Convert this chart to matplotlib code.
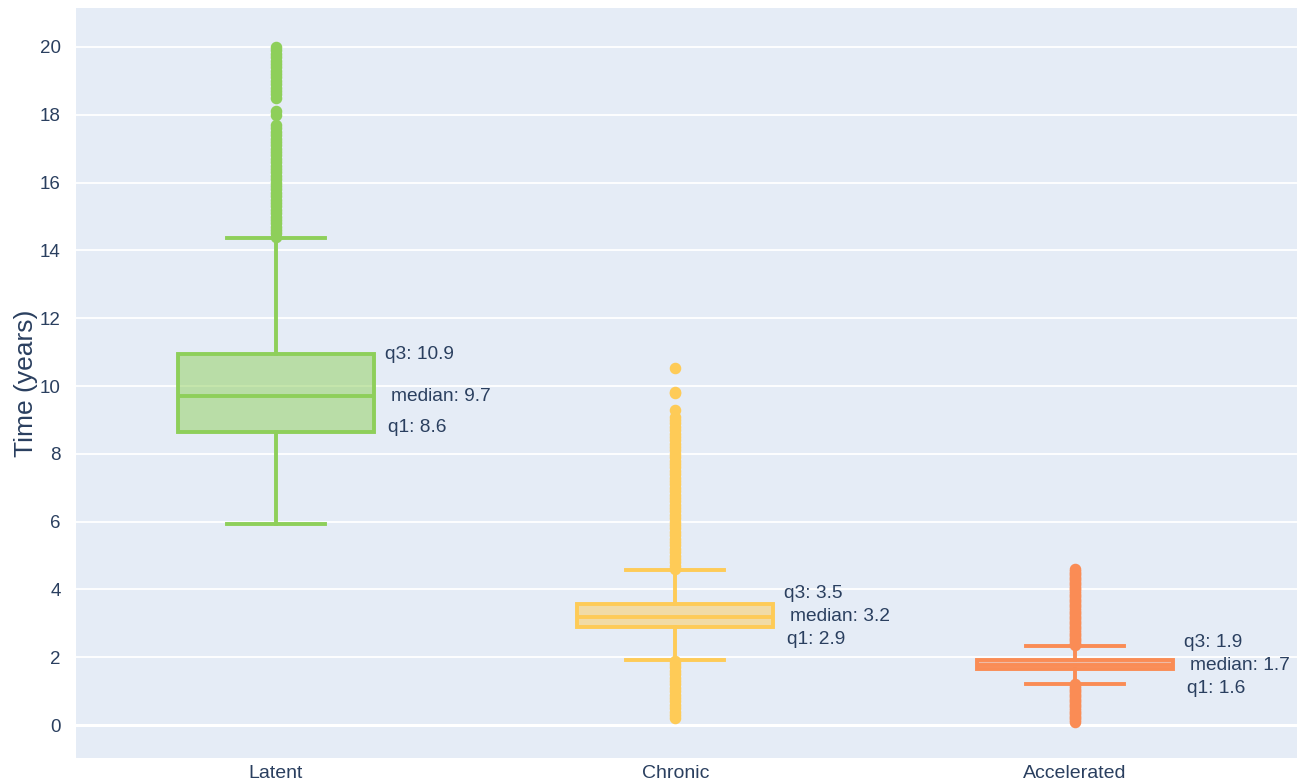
import numpy as np
import matplotlib
matplotlib.use("Agg")
import matplotlib.pyplot as plt
from matplotlib.colors import to_rgba

# ---------------- data ----------------
categories = ["Latent", "Chronic", "Accelerated"]
q1_vals = [8.65, 2.90, 1.64]
median_vals = [9.70, 3.19, 1.76]
q3_vals = [10.94, 3.56, 1.92]
whisker_low = [5.93, 1.92, 1.21]
whisker_high = [14.37, 4.57, 2.33]
q1_labels = ["8.6", "2.9", "1.6"]
median_labels = ["9.7", "3.2", "1.7"]
q3_labels = ["10.9", "3.5", "1.9"]

latent_outliers = [14.4, 14.5, 14.6, 14.7, 14.8, 14.9, 15.0, 15.1, 15.2, 15.3,
                   15.4, 15.5, 15.6, 15.7, 15.8, 15.9, 16.0, 16.1, 16.2, 16.3,
                   16.4, 16.5, 16.6, 16.7, 16.8, 16.9, 17.0, 17.1, 17.2, 17.3,
                   17.4, 17.5, 17.6, 17.7, 18.0, 18.1, 18.5, 18.6, 18.7, 18.8,
                   18.9, 19.0, 19.1, 19.2, 19.3, 19.4, 19.5, 19.6, 19.7, 19.8,
                   19.9, 20.0]
chronic_outliers = [0.21, 0.3, 0.4, 0.5, 0.6, 0.7, 0.8, 0.9, 1.0, 1.1, 1.2,
                    1.3, 1.4, 1.5, 1.6, 1.7, 1.8, 1.9,
                    4.6, 4.7, 4.8, 4.9, 5.0, 5.1, 5.2, 5.3, 5.4, 5.5, 5.6, 5.7,
                    5.8, 5.9, 6.0, 6.1, 6.2, 6.3, 6.4, 6.5, 6.6, 6.7, 6.8, 6.9,
                    7.0, 7.1, 7.2, 7.3, 7.4, 7.5, 7.6, 7.7, 7.8, 7.9, 8.0, 8.1,
                    8.2, 8.3, 8.4, 8.5, 8.6, 8.7, 8.8, 8.9, 9.0, 9.1, 9.29,
                    9.78, 9.82, 10.52]
accelerated_outliers = [0.09, 0.15, 0.2, 0.25, 0.3, 0.35, 0.4, 0.45, 0.5, 0.55,
                        0.6, 0.65, 0.7, 0.75, 0.8, 0.85, 0.9, 0.95, 1.0, 1.05,
                        1.1, 1.15, 1.2,
                        2.35, 2.4, 2.45, 2.5, 2.55, 2.6, 2.65, 2.7, 2.75, 2.8,
                        2.85, 2.9, 2.95, 3.0, 3.05, 3.1, 3.15, 3.2, 3.25, 3.3,
                        3.35, 3.4, 3.45, 3.5, 3.55, 3.6, 3.65, 3.7, 3.75, 3.8,
                        3.85, 3.9, 3.95, 4.0, 4.05, 4.1, 4.15, 4.2, 4.25, 4.3,
                        4.35, 4.4, 4.45, 4.5, 4.55, 4.6]
outliers = [latent_outliers, chronic_outliers, accelerated_outliers]
y_ticks = [0, 2, 4, 6, 8, 10, 12, 14, 16, 18, 20]
y_label = "Time (years)"

# ---------------- style ----------------
colors = ["#8ecf5a", "#fecb57", "#fa8c55"]
bg = "#E5ECF6"
text_color = "#2a3f5f"
plt.rcParams["font.family"] = ["Liberation Sans", "DejaVu Sans"]

fig = plt.figure(figsize=(13.06, 7.82), dpi=100)
ax = fig.add_axes([0.0582, 0.0307, 0.9349, 0.9591])
ax.set_facecolor(bg)
for s in ax.spines.values():
    s.set_visible(False)

ax.set_ylim(-0.97, 21.15)
ax.set_xlim(-0.5, 2.556)
ax.set_yticks(y_ticks)
ax.grid(axis="y", color="white", linewidth=1.3)
ax.axhline(0, color="white", linewidth=2.2, zorder=0.5)
ax.set_axisbelow(True)
ax.tick_params(axis="both", length=0, colors=text_color)
ax.tick_params(axis="y", labelsize=13.5, pad=11)
ax.tick_params(axis="x", labelsize=14, pad=5)
ax.set_ylabel(y_label, fontsize=19, color=text_color, labelpad=1)

for i, cat in enumerate(categories):
    c = colors[i]
    stats = [dict(med=median_vals[i], q1=q1_vals[i], q3=q3_vals[i],
                  whislo=whisker_low[i], whishi=whisker_high[i],
                  fliers=outliers[i], label=cat)]
    ax.bxp(stats, positions=[i], widths=0.49, capwidths=0.245,
           patch_artist=True, manage_ticks=False,
           boxprops=dict(facecolor=to_rgba(c, 0.5), edgecolor=c, linewidth=2.8),
           medianprops=dict(color=c, linewidth=2.8),
           whiskerprops=dict(color=c, linewidth=2.8),
           capprops=dict(color=c, linewidth=2.8),
           flierprops=dict(marker="o", markersize=7.3, markerfacecolor=c,
                           markeredgecolor=c, linestyle="none"))

ax.set_xticks(range(len(categories)))
ax.set_xticklabels(categories)

# annotations to the right of each box
fig.canvas.draw()
trans = ax.transData
min_gap = 23  # pixels
for i in range(len(categories)):
    x_anchor = i + 0.245
    y_med_px = trans.transform((0, median_vals[i]))[1]
    y_q3_px = trans.transform((0, q3_vals[i]))[1]
    y_q1_px = trans.transform((0, q1_vals[i]))[1]
    q3_target = max(y_q3_px, y_med_px + min_gap)
    q1_target = min(y_q1_px + 4, y_med_px - min_gap)
    ax.annotate(f"q3: {q3_labels[i]}", (x_anchor, q3_vals[i]),
                xytext=(11, q3_target - y_q3_px), textcoords="offset pixels",
                ha="left", va="center", fontsize=13.8, color=text_color)
    ax.annotate(f"median: {median_labels[i]}", (x_anchor, median_vals[i]),
                xytext=(17, 0), textcoords="offset pixels",
                ha="left", va="center", fontsize=13.8, color=text_color)
    ax.annotate(f"q1: {q1_labels[i]}", (x_anchor, q1_vals[i]),
                xytext=(14, q1_target - y_q1_px), textcoords="offset pixels",
                ha="left", va="center", fontsize=13.8, color=text_color)

fig.savefig("out.png", dpi=100, facecolor="white")
